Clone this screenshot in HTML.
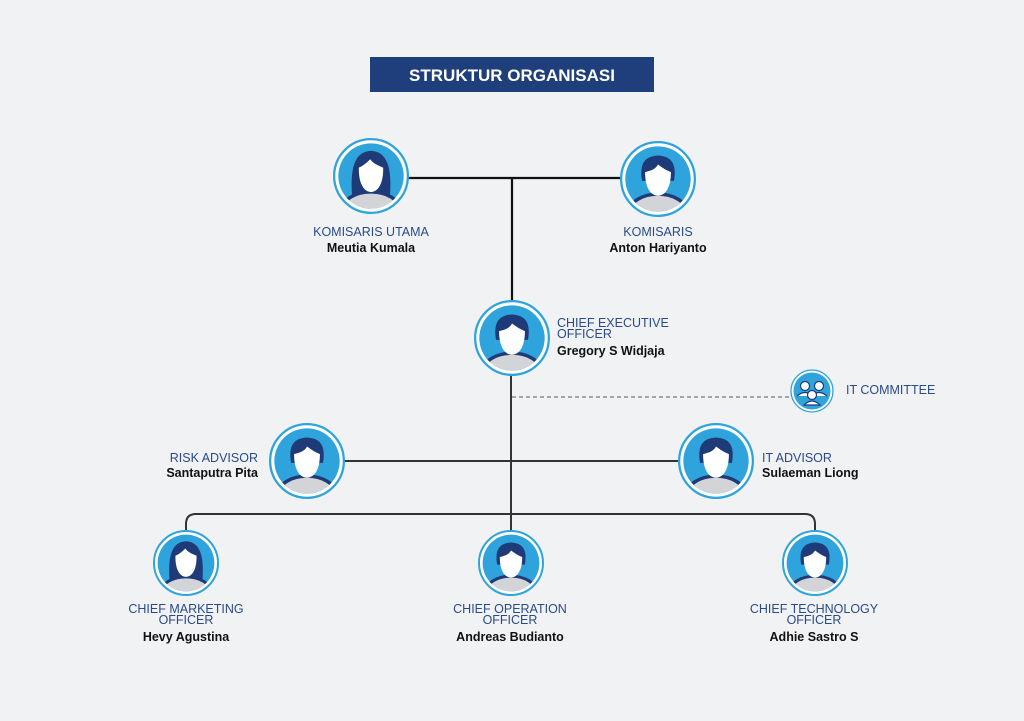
<!DOCTYPE html>
<html><head><meta charset="utf-8">
<style>
html,body{margin:0;padding:0;background:#f1f2f4;}
svg{display:block;}
.l{font-family:"Liberation Sans",sans-serif;font-size:12.5px;fill:#2a4a8c;}
.n{font-family:"Liberation Sans",sans-serif;font-size:12.5px;font-weight:bold;fill:#111;}
</style></head><body>
<svg width="1024" height="721" viewBox="0 0 1024 721" xmlns="http://www.w3.org/2000/svg">
<defs>
<clipPath id="ci"><circle cx="0" cy="0" r="0.86"/></clipPath>
<g id="m">
 <circle r="0.97" fill="#fff" stroke="#2ea3dc" stroke-width="0.06"/>
 <circle r="0.86" fill="#2ea3dc"/>
 <g clip-path="url(#ci)">
  <ellipse cx="0" cy="0.84" rx="0.74" ry="0.44" fill="#d2d4d7" stroke="#1e3a78" stroke-width="0.09"/>
  <path d="M-0.42,0.05 C-0.5,-0.42 -0.34,-0.6 0,-0.62 C0.34,-0.6 0.5,-0.42 0.42,0.05 Z" fill="#1e3a78"/>
  <path d="M-0.34,-0.18 C-0.34,0.25 -0.18,0.44 0,0.44 C0.18,0.44 0.34,0.25 0.34,-0.18 C0.18,-0.24 0.06,-0.34 0,-0.38 C-0.06,-0.26 -0.18,-0.22 -0.34,-0.18 Z" fill="#fff"/>
 </g>
</g>
<g id="f">
 <circle r="0.97" fill="#fff" stroke="#2ea3dc" stroke-width="0.06"/>
 <circle r="0.86" fill="#2ea3dc"/>
 <g clip-path="url(#ci)">
  <path d="M-0.5,0.5 C-0.54,-0.1 -0.48,-0.64 0,-0.66 C0.48,-0.64 0.54,-0.1 0.5,0.5 Z" fill="#1e3a78"/>
  <ellipse cx="0" cy="0.86" rx="0.74" ry="0.44" fill="#d2d4d7" stroke="#1e3a78" stroke-width="0.09"/>
  <path d="M-0.32,-0.22 C-0.33,0.22 -0.17,0.42 0,0.42 C0.17,0.42 0.33,0.22 0.32,-0.22 C0.12,-0.3 0.03,-0.36 -0.02,-0.44 C-0.12,-0.34 -0.22,-0.26 -0.32,-0.22 Z" fill="#fff"/>
 </g>
</g>
</defs>

<rect x="370" y="57" width="284" height="35" fill="#1f3e7c"/>
<text x="512" y="81" text-anchor="middle" font-family="Liberation Sans,sans-serif" font-weight="bold" font-size="17" fill="#fff">STRUKTUR ORGANISASI</text>

<g stroke="#111" stroke-width="2.2" fill="none">
 <line x1="405" y1="178" x2="622" y2="178"/>
 <line x1="512" y1="178" x2="512" y2="302"/>
</g>
<g stroke="#333" stroke-width="2" fill="none">
 <line x1="511" y1="374" x2="511" y2="532"/>
 <line x1="343" y1="461" x2="680" y2="461"/>
 <path d="M186,532 V524 Q186,514 196,514 H805 Q815,514 815,524 V532"/>
</g>
<line x1="512" y1="397" x2="792" y2="397" stroke="#555" stroke-width="1" stroke-dasharray="4,3"/>

<use href="#f" transform="translate(371,176) scale(38)"/>
<use href="#m" transform="translate(658,179) scale(38)"/>
<use href="#m" transform="translate(512,338) scale(38)"/>
<use href="#m" transform="translate(307,461) scale(38)"/>
<use href="#m" transform="translate(716,461) scale(38)"/>
<use href="#f" transform="translate(186,563) scale(33)"/>
<use href="#m" transform="translate(511,563) scale(33)"/>
<use href="#m" transform="translate(815,563) scale(33)"/>

<g transform="translate(812,391)">
 <circle r="21" fill="#fff" stroke="#2ea3dc" stroke-width="1.3"/>
 <circle r="18.5" fill="#2ea3dc"/>
 <g fill="#fff" stroke="#1e3a78" stroke-width="1.2">
  <circle cx="-7" cy="-5" r="4.5"/><path d="M-15,5 Q-7,-2 1,5"/>
  <circle cx="7" cy="-5" r="4.5"/><path d="M-1,5 Q7,-2 15,5"/>
  <circle cx="0" cy="4" r="4.5"/><path d="M-8,14 Q0,6 8,14 Z"/>
 </g>
</g>
<text class="l" x="846" y="394">IT COMMITTEE</text>

<text class="l" x="371" y="236" text-anchor="middle">KOMISARIS UTAMA</text>
<text class="n" x="371" y="252" text-anchor="middle">Meutia Kumala</text>
<text class="l" x="658" y="236" text-anchor="middle">KOMISARIS</text>
<text class="n" x="658" y="252" text-anchor="middle">Anton Hariyanto</text>

<text class="l" x="557" y="327">CHIEF EXECUTIVE</text>
<text class="l" x="557" y="338">OFFICER</text>
<text class="n" x="557" y="355">Gregory S Widjaja</text>

<text class="l" x="258" y="462" text-anchor="end">RISK ADVISOR</text>
<text class="n" x="258" y="477" text-anchor="end">Santaputra Pita</text>
<text class="l" x="762" y="462">IT ADVISOR</text>
<text class="n" x="762" y="477">Sulaeman Liong</text>

<text class="l" x="186" y="613" text-anchor="middle">CHIEF MARKETING</text>
<text class="l" x="186" y="624" text-anchor="middle">OFFICER</text>
<text class="n" x="186" y="641" text-anchor="middle">Hevy Agustina</text>
<text class="l" x="510" y="613" text-anchor="middle">CHIEF OPERATION</text>
<text class="l" x="510" y="624" text-anchor="middle">OFFICER</text>
<text class="n" x="510" y="641" text-anchor="middle">Andreas Budianto</text>
<text class="l" x="814" y="613" text-anchor="middle">CHIEF TECHNOLOGY</text>
<text class="l" x="814" y="624" text-anchor="middle">OFFICER</text>
<text class="n" x="814" y="641" text-anchor="middle">Adhie Sastro S</text>
</svg>
</body></html>
